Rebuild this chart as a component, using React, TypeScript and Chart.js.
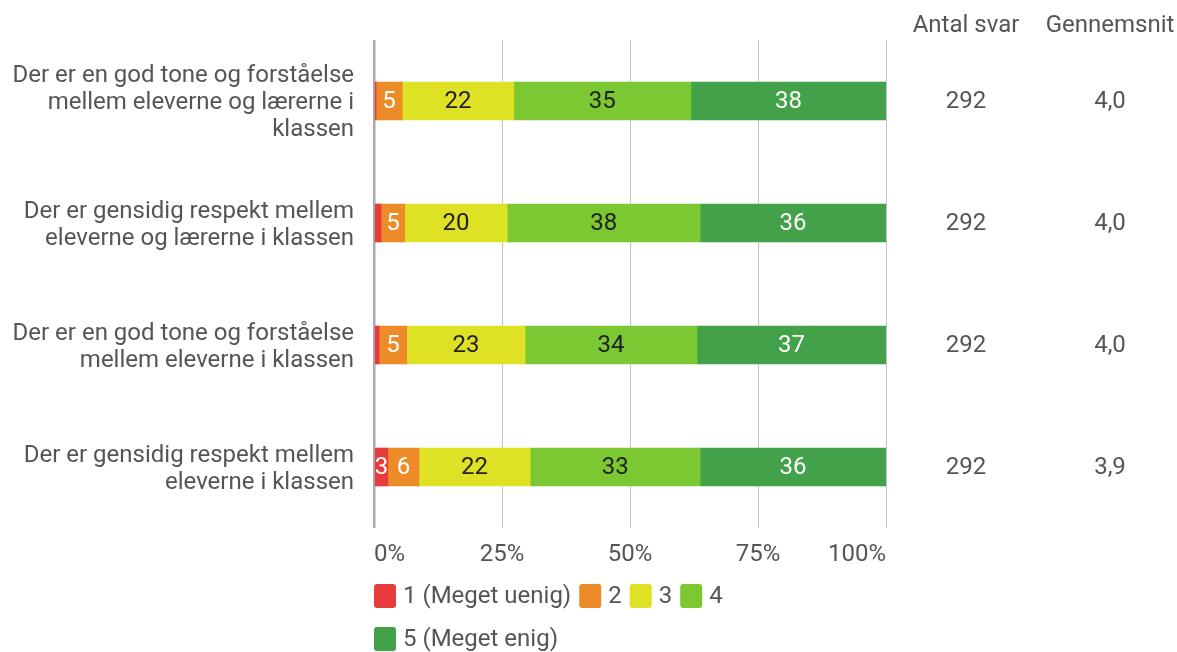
import React, { useEffect, useRef } from "react";
import { Chart, registerables } from "chart.js";

Chart.register(...registerables);

const categories: string[][] = [
  ["Der er en god tone og forståelse", "mellem eleverne og lærerne i", "klassen"],
  ["Der er gensidig respekt mellem", "eleverne og lærerne i klassen"],
  ["Der er en god tone og forståelse", "mellem eleverne i klassen"],
  ["Der er gensidig respekt mellem", "eleverne i klassen"],
];

const seriesNames = ["1 (Meget uenig)", "2", "3", "4", "5 (Meget enig)"];
const seriesColors = ["#e83b3b", "#ee8b29", "#dfe125", "#7bc832", "#43a14a"];
const labelColors = ["#ffffff", "#ffffff", "#222222", "#222222", "#ffffff"];

const s1 = [0.4, 1.4, 1.0, 2.7];
const s2 = [5.1, 4.6, 5.4, 6.1];
const s3 = [21.8, 20.0, 23.1, 21.7];
const s4 = [34.6, 37.7, 33.6, 33.2];
const s5 = [38.1, 36.3, 36.9, 36.3];

const antalSvar = [292, 292, 292, 292];
const gennemsnit = [4.0, 4.0, 4.0, 3.9];

const xTicks = [0, 25, 50, 75, 100];

const FONT = "Roboto, 'Noto Sans', sans-serif";
const FS = 24;
const TEXT = "#555555";

const extrasPlugin = {
  id: "extras",
  afterDatasetsDraw(chart: any) {
    const ctx = chart.ctx;
    const area = chart.chartArea;
    const yScale = chart.scales.y;
    ctx.save();
    // bar labels
    ctx.font = `${FS}px ${FONT}`;
    ctx.textAlign = "center";
    ctx.textBaseline = "middle";
    chart.data.datasets.forEach((ds: any, di: number) => {
      const meta = chart.getDatasetMeta(di);
      meta.data.forEach((bar: any, i: number) => {
        const v = Math.round(ds.data[i]);
        if (v < 3) return;
        const cx = (bar.x + bar.base) / 2;
        ctx.fillStyle = labelColors[di];
        ctx.fillText(String(v), cx, bar.y + 1);
      });
    });
    // right columns
    const col1 = 966;
    const col2 = 1110;
    ctx.fillStyle = TEXT;
    ctx.fillText("Antal svar", col1, 26);
    ctx.fillText("Gennemsnit", col2, 26);
    categories.forEach((_, i) => {
      const y = yScale.getPixelForValue(i) + 1;
      ctx.fillText(String(antalSvar[i]), col1, y);
      ctx.fillText(gennemsnit[i].toFixed(1).replace(".", ","), col2, y);
    });
    // legend
    let x = area.left;
    let rowY = 596;
    const box = 22;
    ctx.textAlign = "left";
    seriesNames.forEach((name, i) => {
      const w = ctx.measureText(name).width;
      const itemW = box + 7 + w;
      if (x + itemW > area.right) {
        x = area.left;
        rowY += 43;
      }
      ctx.fillStyle = seriesColors[i];
      ctx.beginPath();
      if ((ctx as any).roundRect) {
        (ctx as any).roundRect(x, rowY - 12, box, 24, 3);
      } else {
        ctx.rect(x, rowY - 12, box, 24);
      }
      ctx.fill();
      ctx.fillStyle = TEXT;
      ctx.fillText(name, x + box + 7, rowY + 1);
      x += itemW + 8;
    });
    ctx.restore();
  },
};

export default function App() {
  const ref = useRef<HTMLCanvasElement | null>(null);
  useEffect(() => {
    document.body.style.margin = "0";
    const data = [s1, s2, s3, s4, s5];
    const chart = new Chart(ref.current as HTMLCanvasElement, {
      type: "bar",
      data: {
        labels: categories as any,
        datasets: seriesNames.map((name, i) => ({
          label: name,
          data: data[i],
          backgroundColor: seriesColors[i],
          borderWidth: 0,
          barThickness: 38,
        })),
      },
      options: {
        indexAxis: "y",
        responsive: false,
        animation: false,
        layout: { padding: { top: 40, right: 291, left: 0, bottom: 0 } },
        plugins: {
          legend: { display: false },
          tooltip: { enabled: false },
        },
        scales: {
          x: {
            stacked: true,
            min: 0,
            max: 100,
            afterBuildTicks: (scale: any) => {
              scale.ticks = xTicks.map((v) => ({ value: v }));
            },
            afterFit: (scale: any) => {
              scale.height = 124;
              scale.paddingLeft = 0;
              scale.paddingRight = 0;
            },
            border: { display: false },
            grid: {
              drawTicks: false,
              color: (c: any) => (c.tick && c.tick.value === 0 ? "#a9a9a9" : "#c4c4c4"),
              lineWidth: (c: any) => (c.tick && c.tick.value === 0 ? 2.5 : 1),
            },
            ticks: {
              padding: 13,
              align: "inner",
              color: TEXT,
              font: { family: FONT, size: FS },
              callback: (v: any) => `${v}%`,
            },
          },
          y: {
            stacked: true,
            afterFit: (scale: any) => {
              scale.width = 374;
              scale.paddingTop = 0;
              scale.paddingBottom = 0;
            },
            border: { display: false },
            grid: { display: false, drawTicks: false },
            ticks: {
              padding: 20,
              labelOffset: 2,
              color: TEXT,
              font: { family: FONT, size: FS, lineHeight: 1.125 },
            },
          },
        },
      },
      plugins: [extrasPlugin],
    });
    return () => chart.destroy();
  }, []);
  return <canvas ref={ref} width={1177} height={652} style={{ display: "block" }} />;
}
